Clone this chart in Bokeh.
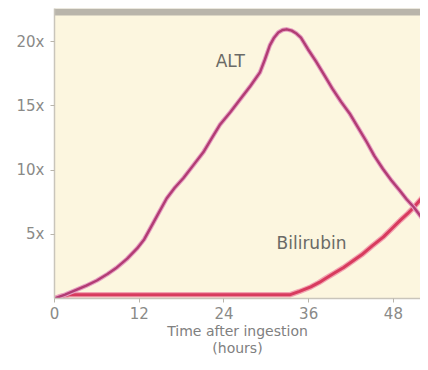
from bokeh.plotting import figure
from bokeh.models import ColumnDataSource, FixedTicker, BoxAnnotation, Range1d
from bokeh.core.properties import value
from bokeh.embed import file_html
from bokeh.resources import INLINE

# ---- data ----
alt_hours = [0, 1.5, 3, 4.5, 6, 7.5, 8.8, 10.3, 11.7, 12.7, 13.6, 14.8, 15.9, 17, 18.3,
             19.7, 21.1, 22.3, 23.4, 24.9, 26.3, 27.7, 29.1, 29.8, 30.5, 31.1, 31.7,
             32.3, 32.9, 33.6, 34.2, 34.9, 35.9, 37.1, 38.3, 39.4, 40.6, 41.8, 43,
             44.2, 45.3, 46.5, 47.7, 48.9, 49.9, 50.9, 52, 52.95]
alt_values = [0, 0.3, 0.65, 1.0, 1.4, 1.9, 2.4, 3.1, 3.9, 4.6, 5.5, 6.7, 7.8, 8.6, 9.4,
              10.4, 11.4, 12.5, 13.5, 14.5, 15.5, 16.5, 17.6, 18.6, 19.7, 20.3, 20.7,
              20.9, 20.95, 20.85, 20.65, 20.3, 19.4, 18.4, 17.3, 16.3, 15.3, 14.4, 13.3,
              12.2, 11.1, 10.1, 9.2, 8.4, 7.7, 7.1, 6.3, 5.5]

bili_hours = [0, 0.8, 2.3, 12, 24, 31, 33.4, 34.7, 36.3, 37.5, 38.5, 39.7, 40.9, 42.2,
              43.5, 45, 46.6, 47.8, 49, 50, 50.9, 52, 52.95]
bili_values = [0, 0.15, 0.3, 0.3, 0.3, 0.3, 0.3, 0.55, 0.9, 1.25, 1.6, 2.0, 2.4, 2.9,
               3.4, 4.1, 4.8, 5.45, 6.1, 6.6, 7.1, 7.8, 8.6]

x_ticks = [0, 12, 24, 36, 48]
y_ticks = [5, 10, 15, 20]
y_tick_labels = ["5x", "10x", "15x", "20x"]

series_names = ["ALT", "Bilirubin"]
series_label_x = [24.9, 36.4]
series_label_y = [18.5, 4.3]

x_title = "Time after ingestion\n(hours)"

FONT = "DejaVu Sans"
Y_TOP = 22.57      # top of the plotting frame
BAR_BOTTOM = 22.02  # lower edge of the grey band along the top

p = figure(width=420, height=362, output_backend="svg", toolbar_location=None,
           x_range=Range1d(0, 51.84), y_range=Range1d(0, Y_TOP),
           min_border_left=54, min_border_right=0, min_border_top=8, min_border_bottom=64)
p.background_fill_color = "#fcf6df"
p.border_fill_color = "white"
p.outline_line_color = None
p.xgrid.visible = False
p.ygrid.visible = False

# grey band along the top of the panel
p.add_layout(BoxAnnotation(bottom=BAR_BOTTOM, fill_color="#b9b5ab", fill_alpha=1,
                           line_color=None, level="underlay"))

# curves (halo + core)
alt_src = ColumnDataSource(dict(x=alt_hours, y=alt_values))
bili_src = ColumnDataSource(dict(x=bili_hours, y=bili_values))
p.line("x", "y", source=bili_src, line_color="#f2a3b1", line_width=5.5, line_join="round")
p.line("x", "y", source=bili_src, line_color="#d83b5e", line_width=3, line_join="round")
p.line("x", "y", source=alt_src, line_color="#e6a0c2", line_width=4.5, line_join="round")
p.line("x", "y", source=alt_src, line_color="#b23c74", line_width=2.4, line_join="round")

# series labels
lab_src = ColumnDataSource(dict(x=series_label_x, y=series_label_y, t=series_names))
p.text("x", "y", text="t", source=lab_src, text_font=value(FONT), text_font_size="17px",
       text_color="#6a6a66", text_align="center", text_baseline="middle")

# axes
for ax in (p.xaxis, p.yaxis):
    ax.axis_line_color = "#c9c5bb"
    ax.axis_line_width = 1.5
    ax.major_tick_line_color = "#b9b5ab"
    ax.major_tick_in = 0
    ax.major_tick_out = 4
    ax.minor_tick_line_color = None
    ax.major_label_text_font = FONT
    ax.major_label_text_font_size = "15px"
    ax.major_label_text_color = "#8a8a88"

p.xaxis.ticker = FixedTicker(ticks=x_ticks)
p.xaxis.major_label_standoff = 4
p.xaxis.axis_label = x_title
p.xaxis.axis_label_text_font = FONT
p.xaxis.axis_label_text_font_size = "14px"
p.xaxis.axis_label_text_line_height = 1.1
p.xaxis.axis_label_text_font_style = "normal"
p.xaxis.axis_label_text_color = "#808080"
p.xaxis.axis_label_standoff = 1

p.yaxis.ticker = FixedTicker(ticks=y_ticks)
p.yaxis.major_label_overrides = {t: l for t, l in zip(y_ticks, y_tick_labels)}
p.yaxis.major_label_standoff = 6

open("out.html", "w").write(file_html(p, INLINE))
